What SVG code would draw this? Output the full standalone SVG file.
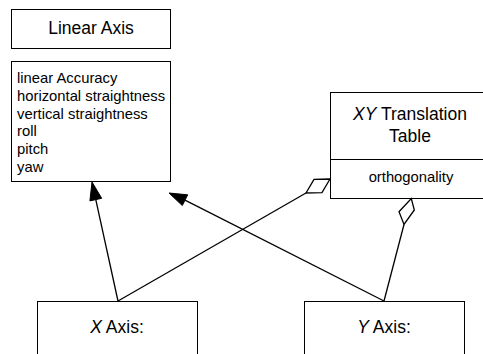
<svg xmlns="http://www.w3.org/2000/svg" width="483" height="354" viewBox="0 0 483 354">
<style>
.box{fill:#fff;stroke:#000;stroke-width:1}
.t{font-family:"Liberation Sans",Arial,sans-serif;fill:#000}
.lg{font-size:17.5px}
.sm{font-size:14.8px}
.c{text-anchor:middle}
.ln{stroke:#000;stroke-width:1.3;fill:none}
.ah{fill:#000;stroke:#000;stroke-width:1}
.dm{fill:#fff;stroke:#000;stroke-width:1.3;stroke-linejoin:miter}
</style>
<rect width="483" height="354" fill="#fff"/>
<g id="linear-axis">
<rect class="box" x="11.5" y="9.5" width="159" height="39"/>
<text class="t lg c" x="91" y="34">Linear Axis</text>
</g>
<g id="linear-axis-attributes">
<rect class="box" x="11.5" y="61.5" width="159" height="120"/>
<text class="t sm" x="17" y="83">linear Accuracy</text>
<text class="t sm" x="17" y="100.8">horizontal straightness</text>
<text class="t sm" x="17" y="118.6">vertical straightness</text>
<text class="t sm" x="17" y="136.4">roll</text>
<text class="t sm" x="17" y="154.2">pitch</text>
<text class="t sm" x="17" y="172">yaw</text>
</g>
<g id="xy-table">
<rect class="box" x="330.5" y="92.5" width="160" height="106"/>
<line class="ln" x1="330.5" y1="159.5" x2="490" y2="159.5" style="stroke-width:1"/>
<text class="t lg c" x="410" y="119.5"><tspan font-style="italic">XY</tspan> Translation</text>
<text class="t lg c" x="410" y="141.5">Table</text>
<text class="t sm c" x="411" y="182">orthogonality</text>
</g>
<g id="x-axis">
<rect class="box" x="37.5" y="301.5" width="160" height="60"/>
<text class="t lg c" x="117" y="333"><tspan font-style="italic">X</tspan> Axis:</text>
</g>
<g id="y-axis">
<rect class="box" x="304.5" y="301.5" width="160" height="60"/>
<text class="t lg c" x="384" y="333"><tspan font-style="italic">Y</tspan> Axis:</text>
</g>
<g id="connectors">
<line class="ln" x1="118" y1="301" x2="95.8" y2="199.6"/>
<polygon class="ah" points="92,182 101.7,198.3 89.9,200.9"/>
<line class="ln" x1="384" y1="301" x2="185" y2="200.1"/>
<polygon class="ah" points="169,193 187.7,194.8 182.3,205.5"/>
<line class="ln" x1="118" y1="301" x2="306" y2="193"/>
<polygon class="dm" points="330,179 314,179.3 306,193 322,192.7"/>
<line class="ln" x1="384" y1="301" x2="404" y2="224.5"/>
<polygon class="dm" points="411.3,198.5 414.3,210 404,224.5 399,211.7"/>
</g>
</svg>
